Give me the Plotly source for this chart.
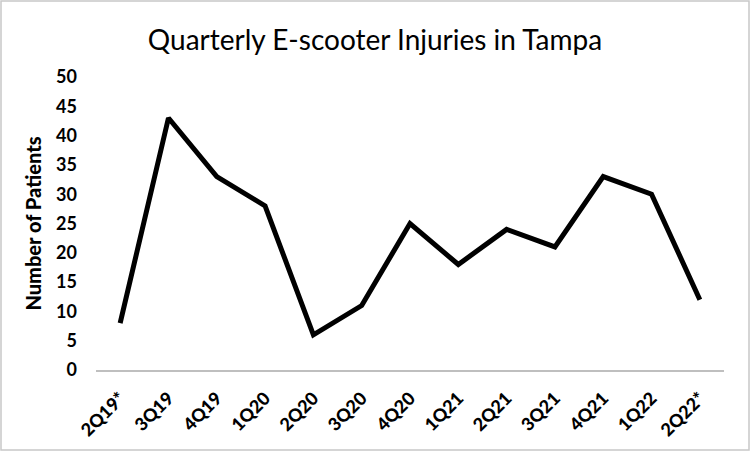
import plotly.graph_objects as go

quarters = ["2Q19*", "3Q19", "4Q19", "1Q20", "2Q20", "3Q20", "4Q20",
            "1Q21", "2Q21", "3Q21", "4Q21", "1Q22", "2Q22*"]
patients = [8, 43, 33, 28, 6, 11, 25, 18, 24, 21, 33, 30, 12]
y_ticks = list(range(0, 51, 5))

W, H = 750, 451
L, R, T, B = 96, 26, 77, 81

fig = go.Figure(go.Scatter(
    x=quarters, y=patients, mode="lines",
    line=dict(color="black", width=5, shape="linear"),
    hoverinfo="x+y",
))

pw = W - L - R
ph = H - T - B
fig.add_shape(type="rect", xref="paper", yref="paper",
              x0=(-L + 1) / pw, x1=(pw + R - 1) / pw,
              y0=(-B + 1) / ph, y1=(ph + T - 1) / ph,
              line=dict(color="#c8c8c8", width=1.5), fillcolor="rgba(0,0,0,0)",
              layer="below")

fig.update_layout(
    width=W, height=H,
    margin=dict(l=L, r=R, t=T, b=B, autoexpand=False),
    paper_bgcolor="white", plot_bgcolor="white",
    showlegend=False,
    font=dict(family="Lato, Open Sans, sans-serif", color="black"),
    title=dict(text="Quarterly E-scooter Injuries in Tampa",
               font=dict(size=28, color="black", family="Lato, sans-serif"),
               x=0.5, xanchor="center", y=0.91, yanchor="middle"),
    xaxis=dict(
        type="category", range=[-0.5, 12.5],
        tickangle=-45, showgrid=False, ticks="",
        showline=True, linecolor="#bfbfbf", linewidth=1.5,
        tickfont=dict(size=18, family="Lato, sans-serif", weight=900),
        ticklabelstandoff=9,
        zeroline=False, automargin=False,
    ),
    yaxis=dict(
        range=[0, 50], tickvals=y_ticks, showgrid=False, ticks="",
        showline=False, zeroline=False, automargin=False,
        tickfont=dict(size=18, family="Lato, sans-serif", weight="bold"),
        ticklabelstandoff=18,
        title=dict(text="Number of Patients",
                   font=dict(size=20, family="Lato, sans-serif", weight=900),
                   standoff=9),
    ),
)

fig.write_html("out.html", config={"displayModeBar": False},
               post_script="document.body.style.margin='0';")
